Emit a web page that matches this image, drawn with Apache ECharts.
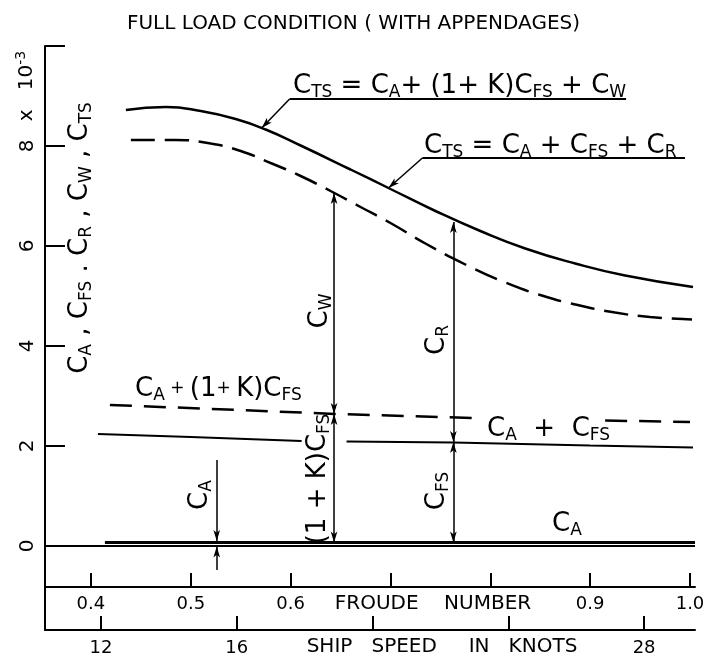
<!DOCTYPE html>
<html>
<head>
<meta charset="utf-8">
<title>Full load condition (with appendages)</title>
<script src="https://cdn.jsdelivr.net/npm/echarts@6/dist/echarts.min.js"></script>
<style>
    html, body { margin: 0; padding: 0; background: #fff; }
    #chart { width: 707px; height: 660px; }
</style>
</head>
<body>
<div id="chart"></div>
<script>
/*
|--------------------------------------------------------------------------
| Data (coefficients x 10^-3)
|--------------------------------------------------------------------------
*/

// Froude number axis
const froudeRange = [0.354, 1.005];
const froudeTicks = [0.4, 0.5, 0.6, 0.7, 0.8, 0.9, 1.0];
const froudeLabels = [0.4, 0.5, 0.6, 0.9, 1.0];

// Ship speed axis, knots
const speedRange = [10.35, 29.5];
const speedTicks = [12, 16, 20, 24, 28];
const speedLabels = [12, 16, 28];

// Coefficient axis
const coefRange = [-1.68, 10];
const coefTicks = [0, 2, 4, 6, 8, 10];
const coefLabels = [0, 2, 4, 6, 8];

// C_TS = C_A + (1+K)C_FS + C_W (solid curve)
const ctsWaveF = [0.435, 0.475, 0.51, 0.545, 0.575, 0.61, 0.66, 0.70, 0.745, 0.79, 0.835, 0.885, 0.935, 1.003];
const ctsWave = [8.72, 8.78, 8.70, 8.54, 8.33, 8.01, 7.53, 7.14, 6.70, 6.30, 5.95, 5.65, 5.41, 5.18];

// C_TS = C_A + C_FS + C_R (dashed curve)
const ctsResidF = [0.44, 0.485, 0.52, 0.55, 0.58, 0.61, 0.64, 0.67, 0.70, 0.735, 0.775, 0.815, 0.85, 0.885, 0.925, 0.96, 1.002];
const ctsResid = [8.12, 8.12, 8.05, 7.90, 7.66, 7.40, 7.10, 6.78, 6.46, 6.05, 5.63, 5.27, 5.02, 4.83, 4.67, 4.58, 4.53];

// C_A + (1+K)C_FS (dashed, broken behind the "C_A + C_FS" label)
const formFrictionF = [0.419, 0.55, 0.644, 0.785, 0.85, 0.915, 1.0];
const formFriction = [2.82, 2.72, 2.64, 2.56, '-', 2.51, 2.48];

// C_A + C_FS (solid, broken behind the "(1+K)C_FS" label)
const frictionF = [0.407, 0.5, 0.611, 0.633, 0.656, 0.763, 0.9, 1.003];
const friction = [2.24, 2.18, 2.10, '-', 2.09, 2.07, 2.01, 1.97];

// C_A
const allowanceF = [0.414, 1.005];
const allowance = [0.07, 0.07];

// Zero line
const zeroF = [0.354, 1.005];
const zero = [0, 0];

// Double arrows: (1+K)C_FS, C_W, C_FS, C_R
const dimF = [0.6435, 0.6435, 0.763, 0.763];
const dimLow = [0.07, 2.64, 0.07, 2.08];
const dimHigh = [2.64, 7.06, 2.08, 6.48];

// Single arrows: C_A marker (two halves) and the two label leaders
const arrowFrom = [[0.526, 1.72], [0.526, -0.48], [0.599, 8.94], [0.732, 7.76]];
const arrowTo = [[0.526, 0.10], [0.526, -0.01], [0.571, 8.36], [0.698, 7.16]];

// Label underlines
const underlineFrom = [[0.599, 8.94], [0.732, 7.76]];
const underlineTo = [[0.936, 8.94], [0.995, 7.76]];

/*
|--------------------------------------------------------------------------
| Styles
|--------------------------------------------------------------------------
*/

const FONT = 'DejaVu Sans';
const INK = '#000';

const zip = (xs, ys) => xs.map((x, i) => [x, ys[i]]);

const richText = {
    m: { fontSize: 26, lineHeight: 32, fontFamily: FONT, fill: INK },
    s: { fontSize: 17, lineHeight: 32, fontFamily: FONT, fill: INK, padding: [14, 0, 0, 0] },
    b: { fontSize: 17, lineHeight: 32, fontFamily: FONT, fill: INK },
    n: { fontSize: 20, lineHeight: 26, fontFamily: FONT, fill: INK },
    p: { fontSize: 14, lineHeight: 26, fontFamily: FONT, fill: INK, padding: [0, 0, 12, 0] },
};

function textItem(text, x, y, opts = {}) {
    return {
        type: 'text',
        x, y,
        z: 100,
        rotation: opts.rotate ? Math.PI / 2 : 0,
        style: {
            text,
            rich: richText,
            fill: INK,
            fontFamily: FONT,
            fontSize: opts.fontSize || 20,
            align: opts.align || 'center',
            verticalAlign: 'middle',
        },
    };
}

function axisBase(range, ticks, labels, extra) {
    return {
        type: 'value',
        min: range[0],
        max: range[1],
        axisLine: { show: true, onZero: false, lineStyle: { color: INK, width: 2 } },
        axisTick: { show: true, inside: true, length: 14, customValues: ticks, lineStyle: { color: INK, width: 2 } },
        axisLabel: {
            customValues: labels,
            color: INK,
            fontFamily: FONT,
            fontSize: 18,
        },
        splitLine: { show: false },
        ...extra,
    };
}

/*
|--------------------------------------------------------------------------
| Chart
|--------------------------------------------------------------------------
*/

function initializeChart() {
    const container = document.getElementById('chart');
    const chart = echarts.init(container, null, { renderer: 'canvas' });

    const froudeAxis = axisBase(froudeRange, froudeTicks, froudeLabels, { position: 'bottom', offset: -43 });
    froudeAxis.axisLabel.formatter = v => v.toFixed(1);
    froudeAxis.axisLabel.margin = 8;

    const speedAxis = axisBase(speedRange, speedTicks, speedLabels, { position: 'bottom', offset: 0 });
    speedAxis.axisLabel.margin = 9;

    const coefAxis = axisBase(coefRange, coefTicks, coefLabels, { position: 'left' });
    coefAxis.axisTick.length = 20;
    coefAxis.axisLabel.rotate = 90;
    coefAxis.axisLabel.margin = 7;
    coefAxis.axisLabel.fontSize = 20;

    const curve = (data, dashed, width) => ({
        type: 'line',
        data,
        smooth: 0.5,
        showSymbol: false,
        connectNulls: false,
        silent: true,
        lineStyle: { color: INK, width: width || 2.5, type: dashed ? dashed : 'solid' },
    });

    const series = [
        curve(zip(zeroF, zero), null, 2),
        curve(zip(allowanceF, allowance), null, 3),
        curve(zip(ctsWaveF, ctsWave)),
        curve(zip(ctsResidF, ctsResid), [24, 10]),
        { ...curve(zip(formFrictionF, formFriction), [22, 12]), smooth: false },
        { ...curve(zip(frictionF, friction), null, 2.2), smooth: false },
        {
            type: 'lines',
            coordinateSystem: 'cartesian2d',
            silent: true,
            symbol: ['arrow', 'arrow'],
            symbolSize: [[5, 11], [5, 11]],
            lineStyle: { color: INK, width: 1.5, opacity: 1 },
            data: dimF.map((f, i) => ({ coords: [[f, dimLow[i]], [f, dimHigh[i]]] })),
        },
        {
            type: 'lines',
            coordinateSystem: 'cartesian2d',
            silent: true,
            symbol: ['none', 'arrow'],
            symbolSize: [[5, 11], [5, 11]],
            lineStyle: { color: INK, width: 1.5, opacity: 1 },
            data: arrowFrom.map((p, i) => ({ coords: [p, arrowTo[i]] })),
        },
        {
            type: 'lines',
            coordinateSystem: 'cartesian2d',
            silent: true,
            symbol: 'none',
            lineStyle: { color: INK, width: 2, opacity: 1 },
            data: underlineFrom.map((p, i) => ({ coords: [p, underlineTo[i]] })),
        },
    ];

    const graphic = [
        // Curve labels
        textItem('{m|C}{s|TS}{m| = C}{s|A}{m|+ (1+ K)C}{s|FS}{m| + C}{s|W}', 293, 86, { align: 'left' }),
        textItem('{m|C}{s|TS}{m| = C}{s|A}{m| + C}{s|FS}{m| + C}{s|R}', 424, 146, { align: 'left' }),
        textItem('{m|C}{s|A}{b| + }{m|(1}{b|+ }{m|K)C}{s|FS}', 135, 389, { align: 'left' }),
        textItem('{m|C}{s|A}{m|  +  C}{s|FS}', 487, 429, { align: 'left' }),
        textItem('{m|C}{s|A}', 552, 524, { align: 'left' }),
        // Dimension labels
        textItem('{m|C}{s|A}', 200, 495, { rotate: true }),
        textItem('{m|(1 + K)C}{s|FS}', 318, 479, { rotate: true }),
        textItem('{m|C}{s|W}', 320, 311, { rotate: true }),
        textItem('{m|C}{s|R}', 437, 340, { rotate: true }),
        textItem('{m|C}{s|FS}', 437, 491, { rotate: true }),
        // Axis names
        textItem('{m|C}{s|A}{m| , C}{s|FS}{m| . C}{s|R}{m| , C}{s|W}{m| , C}{s|TS}', 80, 238, { rotate: true }),
        textItem('{n|x   10}{p|-3}', 27, 86, { rotate: true }),
        textItem('FROUDE    NUMBER', 433, 604),
        textItem('SHIP   SPEED     IN   KNOTS', 442, 647),
    ];

    chart.setOption({
        animation: false,
        backgroundColor: '#fff',
        title: {
            text: 'FULL LOAD CONDITION ( WITH APPENDAGES)',
            left: 'center',
            top: 9,
            textStyle: { color: INK, fontFamily: FONT, fontSize: 20, fontWeight: 'normal' },
        },
        grid: { left: 45, right: 12, top: 46, bottom: 30, containLabel: false, outerBoundsMode: 'none' },
        xAxis: [froudeAxis, speedAxis],
        yAxis: [coefAxis],
        series,
        graphic,
    });
}

initializeChart();
</script>
</body>
</html>
